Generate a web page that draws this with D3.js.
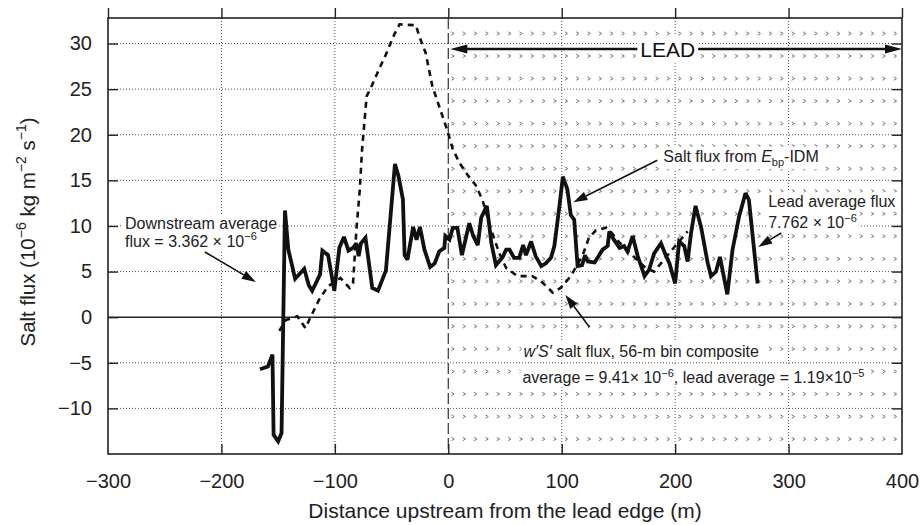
<!DOCTYPE html>
<html>
<head>
<meta charset="utf-8">
<script src="https://cdn.jsdelivr.net/npm/d3@7"></script>
<style>
  html, body { margin: 0; padding: 0; background: #fff; }
  svg { display: block; font-family: "Liberation Sans", Arial, Helvetica, sans-serif; }
</style>
</head>
<body>
<div id="chart"></div>
<script>
// salt flux from E_bp-IDM (solid line): distance (m) / flux (1e-6 kg m-2 s-1)
const idmDistance = [-166, -159, -155, -154, -150, -147, -144, -141, -135, -127, -123, -120, -113, -111, -106,
  -100.5, -96, -92, -88, -84, -81, -79, -77, -73, -67, -62, -55, -47, -44, -40, -38.5, -36, -31, -28, -25, -21,
  -16, -12, -8, -3.5, -2.6, 1, 4, 8, 12, 18.5, 22, 26, 29, 34, 38, 42, 48, 51, 54, 58, 62.5, 66, 68.5, 73, 77,
  82, 86, 90.5, 93.5, 98, 101, 105, 108, 111, 114, 118, 120.5, 123, 129, 136, 140.5, 142, 146, 151, 155, 158,
  162.5, 167, 173, 177, 181.5, 187.5, 192, 195, 200, 203.5, 208, 211, 214, 218, 223, 228.6, 231.6, 236, 239.5,
  246, 250.6, 256.5, 262, 265, 272.7];
const idmFlux = [-5.7, -5.4, -4.1, -12.9, -13.6, -12.7, 11.7, 7.4, 4.2, 5.3, 3.5, 2.9, 4.7, 7.3, 6.8,
  2.9, 7.6, 8.8, 7.3, 7.6, 8.1, 6.7, 8.1, 8.7, 3.2, 2.9, 5.1, 16.8, 15.5, 12.9, 6.8, 6.3, 9.9, 8.5, 9.9, 7.4,
  5.5, 5.9, 7.2, 7.6, 8.9, 8.5, 9.8, 9.8, 6.8, 10.3, 8.9, 7.9, 10.9, 12.2, 8.1, 5.7, 6.6, 7.4, 7.4, 6.5, 6.5, 7.9, 6.8, 8.3, 6.7,
  5.6, 5.9, 6.5, 7.8, 12.2, 15.4, 14.0, 11.2, 10.7, 5.6, 5.7, 6.8, 6.1, 6.0, 7.4, 7.8, 9.4, 8.5, 7.6, 7.8, 7.2,
  8.9, 6.7, 4.5, 5.2, 7.0, 8.1, 6.7, 5.9, 3.7, 8.3, 7.8, 6.1, 9.2, 12.2, 9.8, 6.0, 4.5, 5.0, 6.6,
  2.5, 7.4, 11.1, 13.6, 12.9, 3.7];

// w'S' salt flux, 56-m bin composite (dashed line)
const wsDistance = [-149, -143, -133, -126, -121, -114, -106, -95, -87, -84, -81, -78, -76, -74, -72, -67, -61,
  -55, -47.6, -43, -28.5, -25.6, -20, -14, -8, -2, 4, 10, 17, 24, 30, 38, 45, 51, 61, 74, 83, 92, 99, 108, 118.5,
  124, 130, 139, 143, 150, 157, 168, 174, 181.5, 187.5, 196, 203.5, 211];
const wsFlux = [-1.5, -0.3, 0.1, -1.2, 0.1, 1.9, 3.4, 4.3, 3.2, 3.7, 9.6, 14, 18.4, 21.3, 24.2, 25.5, 27.2,
  28.8, 31.0, 32.1, 32.0, 30.8, 29.0, 25.3, 23.1, 20.9, 18.4, 16.9, 15.6, 14.5, 12.9, 9.5, 7.0, 5.4, 4.5, 4.5, 3.8, 2.7, 3.2, 4.5, 6.8,
  8.7, 9.5, 9.8, 9.4, 8.3, 7.4, 6.1, 5.4, 5.0, 5.9, 7.2, 8.3, 9.4];

const xTicks = [-300, -200, -100, 0, 100, 200, 300, 400];
const yTicks = [-10, -5, 0, 5, 10, 15, 20, 25, 30];
const leadRange = [0, 400];

const width = 922, height = 525;
const margin = { top: 18, right: 20, bottom: 71, left: 108 };
const innerWidth = width - margin.left - margin.right;
const innerHeight = height - margin.top - margin.bottom;

const svg = d3.select("#chart").append("svg")
    .attr("width", width)
    .attr("height", height);

const g = svg.append("g")
    .attr("transform", `translate(${margin.left}, ${margin.top})`);

const x = d3.scaleLinear().domain([-300, 400]).range([0, innerWidth]);
const y = d3.scaleLinear().domain([-15, 32.8]).range([innerHeight, 0]);

// lead hatching (small grey chevrons)
const hatchCols = d3.range(4, 400, 10);
const hatchRows = d3.range(19).map(i => 31.1 - i * 2.47);
const hatch = d3.cross(hatchCols, hatchRows);
g.append("g")
    .selectAll("path")
    .data(hatch)
    .join("path")
    .attr("d", d => {
        const cx = x(d[0]), cy = y(d[1]);
        return `M${cx - 1.4},${cy - 1.7}L${cx + 1.4},${cy}L${cx - 1.4},${cy + 1.7}`;
    })
    .attr("fill", "none")
    .attr("stroke", "#777")
    .attr("stroke-width", 1);

// dotted grid
g.append("g")
    .selectAll("line")
    .data(xTicks.filter(v => v > -300 && v < 400 && v !== 0))
    .join("line")
    .attr("x1", d => x(d)).attr("x2", d => x(d))
    .attr("y1", 0).attr("y2", innerHeight)
    .attr("stroke", "#555").attr("stroke-width", 1).attr("stroke-dasharray", "1,2");

g.append("g")
    .selectAll("line")
    .data(yTicks.filter(v => v !== 0))
    .join("line")
    .attr("x1", 0).attr("x2", innerWidth)
    .attr("y1", d => y(d)).attr("y2", d => y(d))
    .attr("stroke", "#555").attr("stroke-width", 1).attr("stroke-dasharray", "1,2");

// zero line and lead edge
g.append("line")
    .attr("x1", 0).attr("x2", innerWidth)
    .attr("y1", y(0)).attr("y2", y(0))
    .attr("stroke", "#222").attr("stroke-width", 1.6);

g.append("line")
    .attr("x1", x(0)).attr("x2", x(0))
    .attr("y1", 0).attr("y2", innerHeight)
    .attr("stroke", "#333").attr("stroke-width", 1.2).attr("stroke-dasharray", "11,4");

// data lines
const wsLine = d3.line().x((d, i) => x(wsDistance[i])).y(d => y(d));
g.append("path")
    .datum(wsFlux)
    .attr("d", wsLine)
    .attr("fill", "none")
    .attr("stroke", "#111")
    .attr("stroke-width", 2.6)
    .attr("stroke-dasharray", "6,5");

const idmLine = d3.line().x((d, i) => x(idmDistance[i])).y(d => y(d));
g.append("path")
    .datum(idmFlux)
    .attr("d", idmLine)
    .attr("fill", "none")
    .attr("stroke", "#111")
    .attr("stroke-width", 3.8)
    .attr("stroke-linejoin", "miter")
    .attr("stroke-miterlimit", 2.5);

// frame and axes
g.append("rect")
    .attr("width", innerWidth).attr("height", innerHeight)
    .attr("fill", "none").attr("stroke", "#222").attr("stroke-width", 1.6);

const styleAxis = sel => {
    sel.select(".domain").remove();
    sel.selectAll(".tick line").attr("stroke", "#222").attr("stroke-width", 1.4);
    sel.selectAll(".tick text")
        .attr("fill", "#222")
        .style("font-size", "20px")
        .style("font-family", "\"Liberation Sans\", Arial, sans-serif");
};
const noLabels = sel => sel.selectAll(".tick text").remove();

g.append("g")
    .call(d3.axisLeft(y).tickValues(yTicks).tickSize(-10).tickPadding(16))
    .call(styleAxis);

g.append("g")
    .attr("transform", `translate(${innerWidth}, 0)`)
    .call(d3.axisRight(y).tickValues(yTicks).tickSize(-10))
    .call(styleAxis)
    .call(noLabels);

g.append("g")
    .attr("transform", `translate(0, ${innerHeight})`)
    .call(d3.axisBottom(x).tickValues(xTicks).tickSize(-10).tickPadding(20))
    .call(styleAxis)
    .call(a => a.selectAll(".tick").filter(d => d === -300 || d === 400).select("line").remove());

g.append("g")
    .call(d3.axisTop(x).tickValues(xTicks).tickSize(10))
    .call(styleAxis)
    .call(noLabels);

// text helpers
const richText = (parent, px, py, parts, size) => {
    const t = parent.append("text").attr("x", px).attr("y", py)
        .attr("fill", "#222").style("font-size", `${size}px`);
    let shift = 0;
    parts.forEach(p => {
        const part = typeof p === "string" ? { s: p } : p;
        const target = part.sup ? -0.42 * size : part.sub ? 0.28 * size : 0;
        t.append("tspan")
            .attr("dy", target - shift)
            .style("font-size", (part.sup || part.sub) ? `${Math.round(size * 0.7)}px` : null)
            .style("font-style", part.it ? "italic" : null)
            .text(part.s);
        shift = target;
    });
    return t;
};

const withBox = (t, pad = 2) => {
    const b = t.node().getBBox();
    t.node().parentNode.insertBefore(document.createElementNS("http://www.w3.org/2000/svg", "rect"), t.node());
    d3.select(t.node().previousSibling)
        .attr("x", b.x - pad).attr("y", b.y - pad + 1)
        .attr("width", b.width + 2 * pad).attr("height", b.height + 2 * pad - 2)
        .attr("fill", "#fff");
};

// axis titles
svg.append("text")
    .attr("x", margin.left + x(50))
    .attr("y", 518)
    .attr("text-anchor", "middle")
    .attr("fill", "#222")
    .style("font-size", "21px")
    .text("Distance upstream from the lead edge (m)");

const yTitle = svg.append("g").attr("transform", "translate(35, 232) rotate(-90)");
richText(yTitle, 0, 0, ["Salt flux (10", { s: "−6", sup: true }, " kg m", { s: "−2", sup: true },
    " s", { s: "−1", sup: true }, ")"], 20.5)
    .attr("text-anchor", "middle");

// annotations
const ann = g.append("g");

const arrowHead = (parent, x1, y1, x2, y2, len, half) => {
    const a = Math.atan2(y2 - y1, x2 - x1);
    const bx = x2 - len * Math.cos(a), by = y2 - len * Math.sin(a);
    parent.append("path")
        .attr("d", `M${x2},${y2}L${bx + half * Math.sin(a)},${by - half * Math.cos(a)}L${bx - half * Math.sin(a)},${by + half * Math.cos(a)}Z`)
        .attr("fill", "#111");
    return [bx, by];
};

const arrow = (parent, p1, p2, len = 14, half = 4.5, w = 1.6) => {
    const x1 = x(p1[0]), y1 = y(p1[1]), x2 = x(p2[0]), y2 = y(p2[1]);
    const [bx, by] = arrowHead(parent, x1, y1, x2, y2, len, half);
    parent.append("line")
        .attr("x1", x1).attr("y1", y1).attr("x2", bx).attr("y2", by)
        .attr("stroke", "#111").attr("stroke-width", w);
};

// LEAD extent arrow
const leadY = y(29.4);
ann.append("line")
    .attr("x1", x(leadRange[0]) + 12).attr("x2", x(leadRange[1]) - 12)
    .attr("y1", leadY).attr("y2", leadY)
    .attr("stroke", "#111").attr("stroke-width", 2.4);
arrowHead(ann, x(leadRange[1]) - 20, leadY, x(leadRange[1]), leadY, 17, 4.5);
arrowHead(ann, x(leadRange[0]) + 20, leadY, x(leadRange[0]) + 2, leadY, 17, 4.5);
const leadLabel = ann.append("text")
    .attr("x", x(193.5)).attr("y", y(28.5))
    .attr("text-anchor", "middle")
    .attr("fill", "#111")
    .style("font-size", "21px")
    .text("LEAD");
withBox(leadLabel, 3);

// downstream average
withBox(richText(ann, x(-285), y(9.64), ["Downstream average"], 16));
withBox(richText(ann, x(-285), y(7.73), ["flux = 3.362 × 10", { s: "−6", sup: true }], 16));
arrow(ann, [-214.6, 7.15], [-169.7, 3.86]);

// E_bp-IDM
withBox(richText(ann, x(189.6), y(17.05), ["Salt flux from ", { s: "E", it: true }, { s: "bp", sub: true }, "-IDM"], 16));
arrow(ann, [184.3, 17.2], [110.3, 12.6]);

// lead average
withBox(richText(ann, x(282), y(12.05), ["Lead average flux"], 16));
withBox(richText(ann, x(282), y(9.75), ["7.762 × 10", { s: "−6", sup: true }], 16));
arrow(ann, [293.5, 9.23], [273.2, 7.7]);

// w'S' composite
withBox(richText(ann, x(66.3), y(-4.33), [{ s: "w′S′", it: true }, " salt flux, 56-m bin composite"], 16));
withBox(richText(ann, x(65.4), y(-7.25), ["average = 9.41× 10", { s: "−6", sup: true },
    ", lead average = 1.19×10", { s: "−5", sup: true }], 16));
arrow(ann, [124.4, -1.08], [103.3, 2.43]);
</script>
</body>
</html>
